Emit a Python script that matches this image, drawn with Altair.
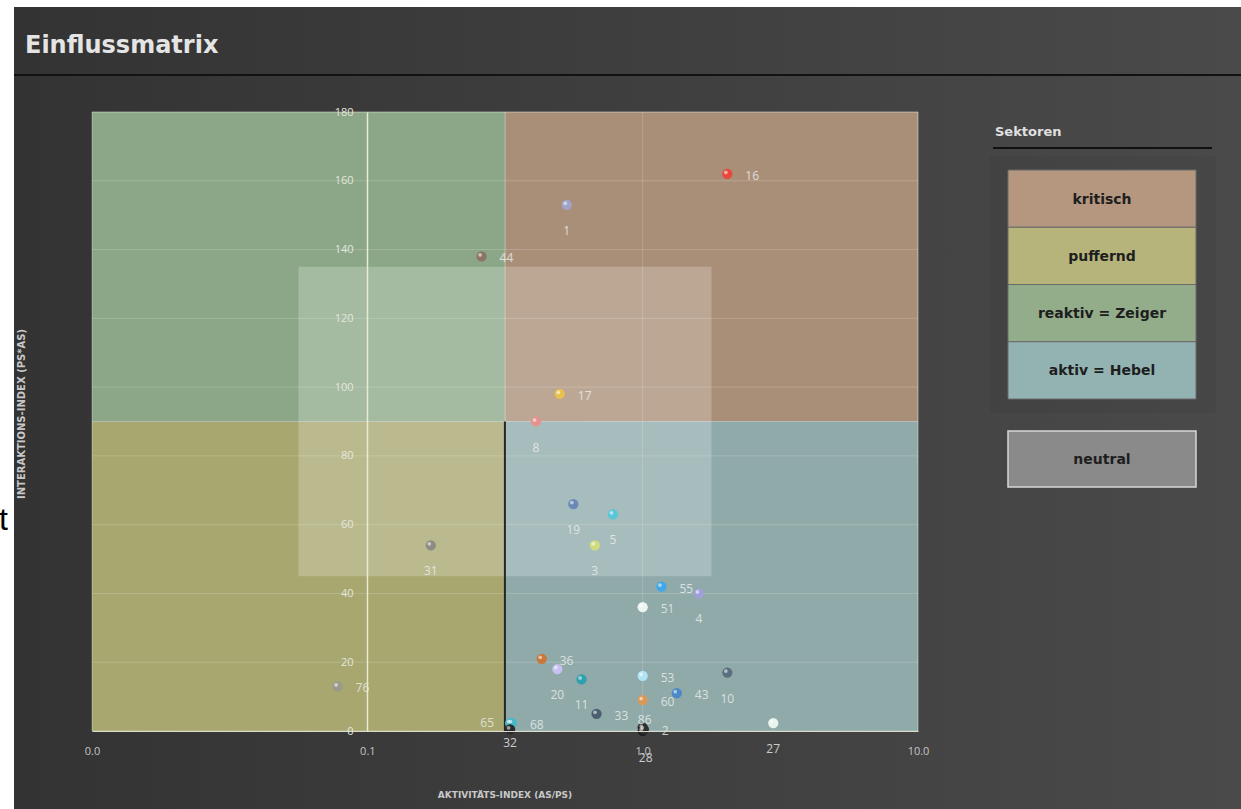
import altair as alt
import pandas as pd

# ---------------- data ----------------
point_ids = ["16", "1", "44", "17", "8", "19", "5", "3", "31", "55", "4", "51", "36", "20",
             "11", "53", "60", "43", "10", "33", "68", "65", "32", "28", "86", "2", "27", "76"]
activity = [2.03, 0.53, 0.26, 0.50, 0.41, 0.56, 0.78, 0.67, 0.17, 1.17, 1.60, 1.00, 0.43, 0.49,
            0.60, 1.00, 1.00, 1.33, 2.03, 0.68, 0.335, 0.33, 0.33, 1.00, 1.00, 1.01, 2.98, 0.078]
interaction = [162, 153, 138, 98, 90, 66, 63, 54, 54, 42, 40, 36, 21, 18,
               15, 16, 9, 11, 17, 5, 2.3, 2.3, 0.5, 0, 1, 0.5, 2.3, 13]
point_colors = ["#e8483a", "#a0a4c8", "#8c7462", "#e8c050", "#e89090", "#6a88b8", "#58c8d8",
                "#d0dc80", "#8c8c84", "#40a8e8", "#a0a0d8", "#eef4f2", "#c8783a", "#c8c0f0",
                "#2ea0b0", "#b0e4f4", "#d89858", "#4a88c8", "#5a7080", "#4a6070", "#48b8c8",
                "#48b8c8", "#2a2a2a", "#1e1e1e", "#2a2a2a", "#303030", "#e8f4ec", "#9a9a8c"]

sector_names = ["kritisch", "puffernd", "reaktiv = Zeiger", "aktiv = Hebel"]
sector_plot_colors = ["#a98f78", "#a7a76f", "#8ba787", "#8faaa9"]
sector_legend_colors = ["#b5977f", "#b6b47a", "#93ad8b", "#93b3b3"]
sector_x0 = [0.316, 0.01, 0.01, 0.316]
sector_x1 = [10, 0.316, 0.316, 10]
sector_y0 = [90, 0, 90, 0]
sector_y1 = [180, 90, 180, 90]

neutral_name = "neutral"
neutral_x = [0.0562, 1.778]
neutral_y = [45, 135]

x_ticks = [0.01, 0.1, 1, 10]
y_ticks = [0, 20, 40, 60, 80, 100, 120, 140, 160, 180]
x_grid = [1, 10]

title_text = "Einflussmatrix"
x_title = "AKTIVITÄTS-INDEX (AS/PS)"
y_title = "INTERAKTIONS-INDEX (PS*AS)"
legend_title = "Sektoren"

# --------------- helpers ----------------
label_side = {"1": "below", "19": "below", "5": "below", "3": "below", "31": "below",
              "4": "below", "20": "below", "11": "below", "10": "below", "27": "below",
              "8": "below", "28": "below28", "32": "below14", "65": "left", "86": "above"}

pts = pd.DataFrame({"id": point_ids, "x": activity, "y": interaction, "c": point_colors})
pts["side"] = [label_side.get(i, "right") for i in point_ids]

sectors = pd.DataFrame({"name": sector_names, "x0": sector_x0, "x1": sector_x1,
                        "y0": sector_y0, "y1": sector_y1})
neutral = pd.DataFrame({"x0": [neutral_x[0]], "x1": [neutral_x[1]],
                        "y0": [neutral_y[0]], "y1": [neutral_y[1]]})
dummy = pd.DataFrame({"a": [0]})

W, H = 826, 619
L, T = 92, 112

xs = alt.Scale(type="log", domain=[0.01, 10], nice=False)
ys = alt.Scale(domain=[0, 180], nice=False)

x_axis = alt.Axis(values=x_ticks, format=".1f", labelColor="#c4c4c4", labelFontSize=11,
                  labelFont="Open Sans", ticks=False, domain=True, domainColor="#d8dcc8",
                  grid=False, title=None, labelPadding=14, zindex=1, labelFlush=False,
                  labelOverlap=False)
y_axis = alt.Axis(values=y_ticks, offset=-275, labelColor="#e6e6dc", labelFontSize=11,
                  labelFont="Open Sans", ticks=False, domain=True, domainColor="#e8ecd0",
                  domainWidth=1.5, grid=False, title=None, labelPadding=14, zindex=1,
                  labelOverlap=False)

def px(sx):
    return sx - L

def py(sy):
    return sy - T

layers = []

# background panel
grad = alt.Gradient(gradient="linear",
                    stops=[alt.GradientStop(offset=0, color="#333333"),
                           alt.GradientStop(offset=1, color="#4a4a4a")],
                    x1=0, x2=1, y1=0, y2=0)
layers.append(alt.Chart(dummy).mark_rect(color=grad).encode(
    x=alt.value(px(14)), x2=alt.value(px(1241)), y=alt.value(py(7)), y2=alt.value(py(809))))

# stray "t" from the page
layers.append(alt.Chart(dummy).mark_text(text="t", font="Liberation Sans", fontSize=32,
                                         color="#000000", align="left", baseline="alphabetic").encode(
    x=alt.value(px(-1)), y=alt.value(py(530))))

# title and its line
layers.append(alt.Chart(dummy).mark_text(text=title_text, font="DejaVu Sans", fontWeight="bold",
                                         fontSize=24, color="#e4e4e4", align="left",
                                         baseline="alphabetic").encode(
    x=alt.value(px(25)), y=alt.value(py(53))))
layers.append(alt.Chart(dummy).mark_rule(color="#121212", strokeWidth=2).encode(
    x=alt.value(px(14)), x2=alt.value(px(1241)), y=alt.value(py(75))))

# sectors
layers.append(alt.Chart(sectors).mark_rect(stroke="#ffffff", strokeOpacity=0.3, strokeWidth=1).encode(
    x=alt.X("x0:Q", scale=xs, axis=x_axis), x2="x1:Q",
    y=alt.Y("y0:Q", scale=ys, axis=y_axis), y2="y1:Q",
    color=alt.Color("name:N", scale=alt.Scale(domain=sector_names, range=sector_plot_colors),
                    legend=None)))

# neutral overlay
layers.append(alt.Chart(neutral).mark_rect(color="#ffffff", opacity=0.22).encode(
    x=alt.X("x0:Q", scale=xs), x2="x1:Q", y=alt.Y("y0:Q", scale=ys), y2="y1:Q"))

# grid lines
layers.append(alt.Chart(pd.DataFrame({"g": y_ticks[1:]})).mark_rule(
    color="#ffffff", opacity=0.18, strokeWidth=1).encode(y=alt.Y("g:Q", scale=ys)))
layers.append(alt.Chart(pd.DataFrame({"g": x_grid})).mark_rule(
    color="#ffffff", opacity=0.18, strokeWidth=1).encode(x=alt.X("g:Q", scale=xs)))

# dark edge of aktiv sector
layers.append(alt.Chart(sectors[sectors["name"] == "aktiv = Hebel"]).mark_rule(
    color="#262626", strokeWidth=2).encode(
    x=alt.X("x0:Q", scale=xs), y=alt.Y("y0:Q", scale=ys), y2="y1:Q"))

# points
layers.append(alt.Chart(pts).mark_circle(size=105, opacity=1).encode(
    x=alt.X("x:Q", scale=xs), y=alt.Y("y:Q", scale=ys),
    color=alt.Color("c:N", scale=None)))
layers.append(alt.Chart(pts).mark_circle(size=14, opacity=0.55, color="#ffffff",
                                         xOffset=-1.5, yOffset=-1.5).encode(
    x=alt.X("x:Q", scale=xs), y=alt.Y("y:Q", scale=ys)))

# labels
side_style = {
    "right": dict(dx=18, dy=2, align="left"),
    "below": dict(dx=0, dy=26, align="center"),
    "below14": dict(dx=0, dy=14, align="center"),
    "below28": dict(dx=3, dy=27, align="center"),
    "left": dict(dx=-16, dy=0, align="right"),
    "above": dict(dx=2, dy=-8, align="center"),
}
for side, st in side_style.items():
    sub = pts[pts["side"] == side]
    if len(sub) == 0:
        continue
    layers.append(alt.Chart(sub).mark_text(font="Open Sans", fontSize=12, color="#eeeeee",
                                           opacity=0.8, baseline="middle", **st).encode(
        x=alt.X("x:Q", scale=xs), y=alt.Y("y:Q", scale=ys), text="id:N"))

# axis titles
layers.append(alt.Chart(dummy).mark_text(text=x_title, font="DejaVu Sans", fontWeight="bold",
                                         fontSize=9, color="#c8c8c8", align="center",
                                         baseline="middle").encode(
    x=alt.value(px(505)), y=alt.value(py(795))))
layers.append(alt.Chart(dummy).mark_text(text=y_title, font="DejaVu Sans", fontWeight="bold",
                                         fontSize=10, color="#c8c8c8", align="center",
                                         baseline="middle", angle=270).encode(
    x=alt.value(px(22)), y=alt.value(py(414))))

# legend
layers.append(alt.Chart(dummy).mark_text(text=legend_title, font="DejaVu Sans", fontWeight="bold",
                                         fontSize=13, color="#e0e0e0", align="left",
                                         baseline="alphabetic").encode(
    x=alt.value(px(995)), y=alt.value(py(136))))
layers.append(alt.Chart(dummy).mark_rule(color="#111111", strokeWidth=2).encode(
    x=alt.value(px(993)), x2=alt.value(px(1212)), y=alt.value(py(148))))
layers.append(alt.Chart(dummy).mark_rect(color="#000000", opacity=0.035).encode(
    x=alt.value(px(990)), x2=alt.value(px(1216)), y=alt.value(py(156)), y2=alt.value(py(413))))

box_top = 170
box_h = 57.25
for i, (name, col) in enumerate(zip(sector_names, sector_legend_colors)):
    y0 = box_top + i * box_h
    layers.append(alt.Chart(dummy).mark_rect(color=col, stroke="#6a6a6a", strokeWidth=1).encode(
        x=alt.value(px(1008)), x2=alt.value(px(1196)), y=alt.value(py(y0)),
        y2=alt.value(py(y0 + box_h))))
    layers.append(alt.Chart(dummy).mark_text(text=name, font="DejaVu Sans", fontWeight="bold",
                                             fontSize=14, color="#1e1e1e", align="center",
                                             baseline="middle").encode(
        x=alt.value(px(1102)), y=alt.value(py(y0 + box_h / 2 + 1))))
layers.append(alt.Chart(dummy).mark_rect(color="#8a8a8a", stroke="#d8d8d8", strokeWidth=1.5).encode(
    x=alt.value(px(1008)), x2=alt.value(px(1196)), y=alt.value(py(431)), y2=alt.value(py(487))))
layers.append(alt.Chart(dummy).mark_text(text=neutral_name, font="DejaVu Sans", fontWeight="bold",
                                         fontSize=14, color="#1e1e1e", align="center",
                                         baseline="middle").encode(
    x=alt.value(px(1102)), y=alt.value(py(460))))

chart = alt.layer(*layers).properties(
    width=W, height=H,
    autosize=alt.AutoSizeParams(type="none"),
    padding={"left": L, "top": T, "right": 1241 - L - W, "bottom": 809 - T - H},
    background="#ffffff",
).configure_view(stroke=None)

chart.save("out.html", embed_options={"renderer": "svg", "actions": False})
